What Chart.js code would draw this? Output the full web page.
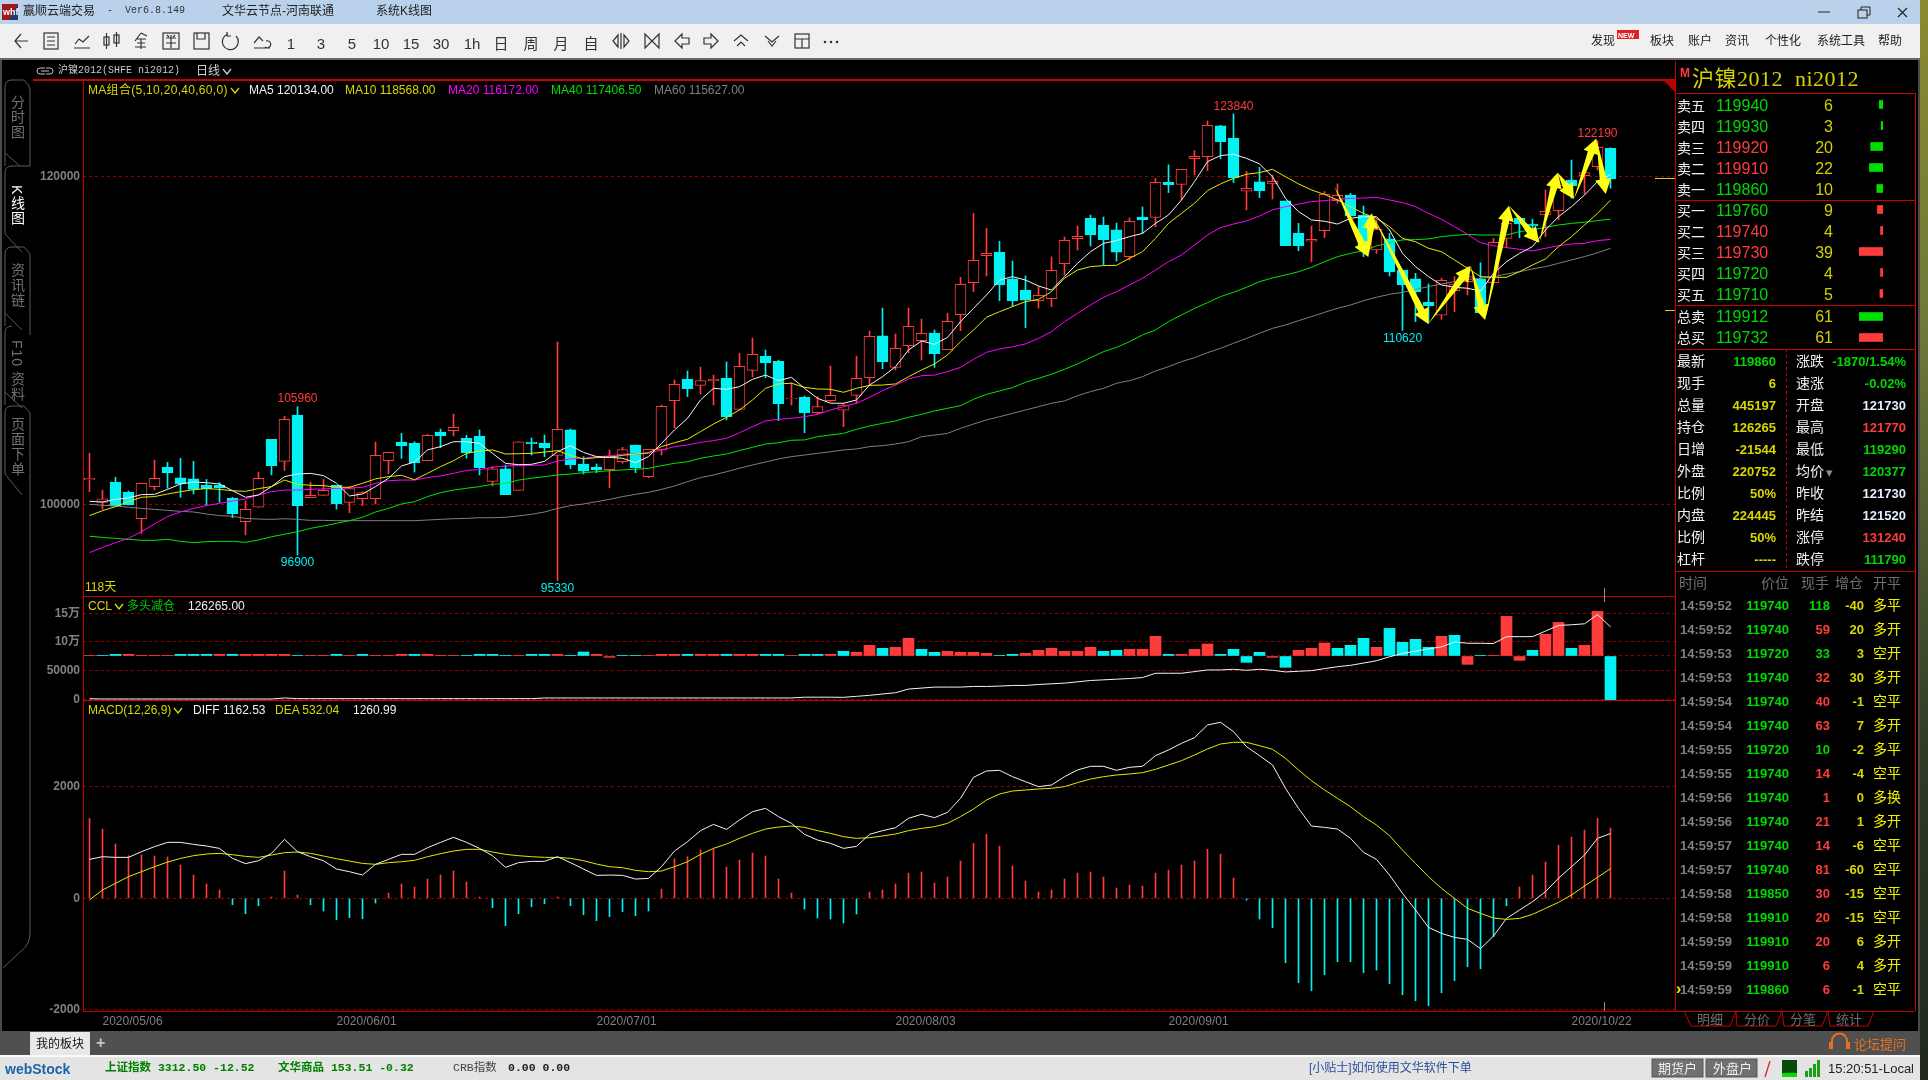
<!DOCTYPE html>
<html>
<head>
<meta charset="utf-8">
<title>沪镍2012</title>
<script src="https://cdn.jsdelivr.net/npm/chart.js@4/dist/chart.umd.js"></script>
<style>
html,body{margin:0;padding:0;background:#000;width:1928px;height:1080px;overflow:hidden;font-family:"Liberation Sans","Noto Sans CJK SC",sans-serif}
#app{position:absolute;left:0;top:0;width:1928px;height:1080px;overflow:hidden}
.box{position:absolute}
.t{position:absolute;white-space:pre;transform:translateY(-50%);line-height:1;z-index:5}
canvas{position:absolute;display:block}
</style>
</head>
<body>
<div id="app">
<div class="box" style="left:1920px;top:0;width:8px;height:1080px;background:linear-gradient(#8a8a30,#6e7a3a 30%,#2c3a26 70%,#20281e)"></div>
<div class="box" style="left:0;top:0;width:1920px;height:24px;background:#b9d1ea"></div>
<div class="box" style="left:0;top:24px;width:1920px;height:34px;background:#f0f0f0"></div>
<div class="box" style="left:0;top:58px;width:1920px;height:2px;background:#6a6a6a"></div>
<div class="box" style="left:0;top:60px;width:2px;height:971px;background:#4a4a4a"></div>
<div class="box" style="left:1918px;top:60px;width:2px;height:971px;background:#4a4a4a"></div>
<div class="box" style="left:0;top:1031px;width:1920px;height:24px;background:#505050"></div>
<div class="box" style="left:30px;top:1032px;width:60px;height:23px;background:#e8e8e8"></div>
<div class="box" style="left:0;top:1055px;width:1920px;height:25px;background:#e4e4e4;border-top:2px solid #fafafa;box-sizing:border-box"></div>
<div class="box" style="left:33px;top:79px;width:1642px;height:2px;background:#c80000"></div>
<div class="box" style="left:1675px;top:61px;width:1px;height:950px;background:#c80000"></div>
<svg class="box" id="chrome" style="left:0;top:0;z-index:4" width="1928" height="1080" xmlns="http://www.w3.org/2000/svg"></svg>
<canvas id="main" width="1644" height="516" style="left:31px;top:80px"></canvas>
<canvas id="ccl" width="1644" height="114" style="left:31px;top:596px"></canvas>
<canvas id="macd" width="1644" height="331" style="left:31px;top:700px"></canvas>
<canvas id="depth" width="24" height="210" style="left:1859px;top:94px"></canvas>
<canvas id="depthTotal" width="24" height="42" style="left:1859px;top:306px"></canvas>
</div>
<script>
// daily candles, index 0 = first visible session
const opens = [101500,100120,101360,100750,99120,101080,102260,101610,101550,101180,
  101180,100370,98940,99820,103970,102620,105450,100410,100550,101160,
  100120,100340,100340,102660,103800,103740,102660,104410,104500,104030,
  104170,101400,102160,100850,103800,103720,102990,104540,102460,102280,
  102120,102600,103620,101690,103320,106330,107630,107260,107550,107690,
  105800,108180,109030,108730,106430,106530,105600,106330,105740,106650,
  107730,110280,108360,109690,109990,110460,109440,111580,113530,115180,
  115400,113760,113080,112430,112550,114690,116220,117460,117030,116750,
  115120,117540,117520,119660,119530,121100,121220,123100,122360,119110,
  119680,119560,118520,116560,116060,116710,118540,118880,117660,115530,
  116200,114300,113760,112330,111540,113040,113590,113760,113530,116240,
  117460,117110,117660,117930,119800,120060,120610,121730];
const highs = [103110,100870,101650,100810,101280,102700,102560,102810,102620,101520,
  101320,100430,100200,101950,103970,105370,105960,101340,101520,101160,
  101080,100770,103800,103170,104330,103820,104270,104600,105510,104210,
  104540,102300,102400,103820,104050,104230,109910,104600,102910,102460,
  103320,103480,103620,103360,106060,107590,108140,108380,107890,108690,
  109220,110150,109420,108790,107430,106610,106570,108440,106160,109050,
  110580,111980,110400,111980,111310,110640,111660,113860,117760,116850,
  116060,114850,113940,113290,115100,116320,116990,117660,117540,117170,
  117480,118150,119900,120720,120450,121590,123400,123140,123840,120330,
  120570,120100,118520,117150,116990,119090,119560,118980,118210,117360,
  116540,114300,114100,113450,113800,113900,114510,114750,116240,117560,
  117560,117400,119190,120100,121020,120310,122190,121770];
const lows = [100770,99690,99880,99960,98230,100870,100980,100430,100630,99960,
  100120,99180,98130,99820,101790,102070,96900,100410,100550,99710,
  99490,99920,100020,101870,102810,101970,102660,103460,104170,102810,
  101790,101120,100590,100850,103010,102910,95330,102180,101850,101930,
  101020,102500,101930,101630,103010,104680,106570,106730,106060,105150,
  105800,107790,107730,105110,106060,104370,105510,106270,104740,106160,
  107280,108280,108200,109260,108810,108360,109440,110600,112980,113940,
  112430,112070,110780,111980,112070,114000,115520,115770,114610,114850,
  114920,116540,116950,119030,118580,120100,120370,121100,119640,117970,
  118720,118640,115790,115480,114810,116280,118380,117360,115120,115320,
  113940,110620,111150,111050,111290,111760,112780,111700,113530,115690,
  116280,116280,116340,117360,118680,118940,120410,119290];
const closes = [101580,100340,99880,99960,101280,101590,101910,101240,100910,100960,
  101000,99430,99690,101590,102360,105190,99920,100550,100850,100040,
  100960,100710,102990,103170,103560,102540,104210,104170,104700,103130,
  102240,102160,100590,103820,103700,103440,104580,102400,102030,102100,
  102950,103340,102240,103360,105980,107320,107060,107550,107630,105350,
  108420,109160,108650,106140,106490,105600,105960,106650,106060,107690,
  110260,108710,109520,110860,110440,109200,111170,113430,114900,115320,
  113390,112430,112470,112760,114280,116120,116360,116440,116140,115400,
  117280,117360,119660,119510,120450,121240,123140,122140,119940,119290,
  119150,119720,115790,115790,116180,118920,118860,117600,115670,116790,
  114180,113390,112980,112110,113670,113450,113900,111700,115990,117150,
  117110,116990,117890,119490,119430,120250,121790,119860];

const ma5 = [100180,100140,100300,100390,100590,100610,100910,101240,101360,101320,
  101240,100830,100430,100570,101080,101690,101850,101890,101750,101280,
  100510,100630,101080,101590,102340,102580,103320,103520,103820,103820,
  103720,103110,102500,102420,102440,102620,103210,103580,103170,102910,
  102870,102810,102540,102910,103720,104540,105250,106370,107080,107020,
  107180,107630,107890,107550,107750,107080,106470,106170,106170,106370,
  107280,107790,108400,109420,109970,109770,110190,111150,111960,112780,
  113690,113900,113690,113330,113080,113900,114710,115420,115930,116100,
  116340,116540,117150,117660,118580,119700,120920,121290,121370,121120,
  120780,120000,118680,117870,117360,117280,117110,117460,117560,117560,
  116750,115320,114510,113900,113390,113250,113190,113020,114100,114810,
  115320,115730,116750,117560,118170,118880,119700,120134];
const ma10 = [99310,99610,99860,100160,100430,100470,100630,100770,100890,100960,
  100910,100830,100790,100960,101080,101480,101220,101160,101140,101040,
  101040,101280,101550,101690,101770,101500,101890,102300,102660,103110,
  103250,103320,103070,103090,103110,103190,103280,102990,102770,102850,
  102870,102990,103070,103150,103520,103760,103970,104440,104900,105310,
  105760,106370,107080,107350,107390,107140,107040,107020,106840,107080,
  107260,107280,107350,107790,108200,108570,109120,109930,110640,111420,
  111760,112070,112370,112510,112980,113800,114300,114510,114570,114590,
  115020,115420,116240,117150,117760,118380,119150,119560,119900,120150,
  120250,120450,120000,119560,119190,118920,118580,118170,117760,117460,
  116950,116240,116030,115630,115420,114920,114410,113900,113860,113860,
  114200,114610,114980,115730,116340,117050,117760,118568];
const ma20 = [97050,97370,97660,97920,98330,98800,99250,99530,99750,99920,
  100060,100200,100320,100570,100770,100870,100870,100910,100940,100980,
  101000,101040,101280,101440,101480,101480,101630,101730,101890,102070,
  102120,102260,102340,102360,102380,102400,102640,102770,102810,102910,
  102950,103070,103070,103110,103320,103520,103620,103780,103890,104030,
  104370,104740,105090,105190,105250,105350,105490,105760,105960,106170,
  106530,106940,107280,107650,107850,107890,108100,108360,108850,109280,
  109480,109620,109790,110130,110540,111150,111660,112170,112640,112980,
  113390,113800,114300,114810,115220,115830,116440,116890,117110,117300,
  117600,117970,118170,118330,118480,118540,118620,118680,118700,118740,
  118580,118420,118170,117760,117400,116950,116480,115970,115790,115670,
  115570,115470,115630,115790,115890,115930,116100,116172];
const ma40 = [98050,97980,97920,97860,97800,97800,97860,97740,97660,97720,
  97740,97740,97680,97820,98020,98170,98330,98530,98680,98840,
  99000,99210,99530,99750,100020,100160,100470,100710,100870,100980,
  101080,101220,101280,101480,101590,101690,101790,101850,101930,101990,
  102050,102100,102140,102200,102360,102500,102600,102810,102950,103070,
  103280,103480,103680,103760,103910,103930,104130,104230,104330,104580,
  104780,104940,105090,105310,105490,105700,105860,106020,106410,106710,
  106920,107120,107450,107690,107940,108240,108570,108950,109320,109580,
  109930,110340,110640,111150,111560,111960,112310,112680,112940,113250,
  113590,113820,114000,114200,114470,114810,115120,115320,115490,115770,
  115970,116140,116160,116200,116340,116420,116480,116440,116440,116440,
  116650,116750,116910,117050,117150,117220,117320,117406.5];
const ma60 = [100000,99940,99900,99820,99750,99690,99630,99570,99530,99410,
  99310,99270,99140,99100,99080,99120,99080,99020,99020,99000,
  99000,99000,99000,99000,99000,99000,99040,99080,99120,99140,
  99180,99180,99210,99290,99390,99530,99750,99920,100020,100160,
  100300,100470,100610,100730,100910,101120,101380,101630,101790,101990,
  102200,102400,102580,102770,102910,103010,103110,103210,103320,103380,
  103520,103580,103680,103820,104130,104230,104330,104640,104900,105150,
  105350,105550,105760,105960,106170,106310,106630,106880,107080,107390,
  107550,107790,108140,108400,108710,108950,109260,109520,109830,110130,
  110440,110740,110950,111210,111460,111720,111960,112170,112430,112640,
  112820,112940,113120,113290,113450,113590,113730,113800,113900,114060,
  114200,114370,114510,114710,114920,115120,115360,115627];

// open interest panel
const cclDelta = [330,330,820,820,330,330,330,820,820,820,
  820,820,820,820,820,820,330,330,330,820,
  330,820,330,330,820,820,820,330,330,330,
  820,820,330,330,820,820,820,330,1960,820,
  -650,330,330,330,820,820,820,820,820,820,
  820,820,820,820,330,820,820,820,2280,1790,
  5220,3750,4240,8640,3260,1790,2280,1790,1790,1300,
  330,820,1300,2770,3750,2280,2280,4240,2280,2770,
  3260,3260,9620,820,820,3260,5870,820,3260,-3100,
  1790,-650,-5540,2770,3750,6360,3750,5220,8640,4240,
  13530,6680,8150,4240,9620,10110,-4080,330,330,19400,
  -2120,2770,10600,16460,3750,5220,21840,-21544];
const cclRed = [1,0,0,1,1,1,1,0,0,0,
  1,0,1,1,1,1,0,1,1,0,
  1,0,1,1,1,0,1,1,1,0,
  0,0,0,1,0,0,1,0,0,1,
  1,0,0,1,1,1,0,1,1,0,
  1,1,0,0,1,0,0,1,0,1,
  1,0,1,1,0,0,1,1,1,1,
  0,0,1,1,1,1,1,1,0,0,
  1,1,1,0,1,1,1,0,0,0,
  0,1,0,1,1,1,0,0,0,1,
  0,0,0,0,1,0,1,0,1,1,
  1,0,1,1,0,1,1,0];
const cclLine = [1000,600,600,600,600,600,600,600,600,600,
  600,600,600,600,600,2300,1150,1150,1150,1150,
  1150,1150,1150,1150,1150,1150,1150,1150,1150,1150,
  1150,1150,1150,1150,1150,2300,2300,2300,2300,2300,
  2300,2300,2300,2300,2300,2300,2300,2300,2300,2300,
  2300,2300,2300,2300,2300,3700,3700,3700,3450,5180,
  6900,9200,11500,17830,19550,21280,21280,21280,22430,22430,
  23000,24150,24150,25880,27030,28180,30480,32780,33930,35080,
  36230,37950,45430,45430,45430,48300,51180,51180,52330,50600,
  52330,50600,47730,48880,50030,53480,56930,59230,63250,67280,
  74180,79930,83950,87980,91430,100050,97750,97750,97180,109250,
  109250,109250,119030,128800,129950,131680,147780,126265];
const cclTicks = [0,50000,100000,150000];
const cclTickLabels = {0:"0",50000:"50000",100000:"10万",150000:"15万"};

// MACD panel
const macdHist = [1435,1243,974,765,777,759,741,598,418,257,
  150,-114,-275,-132,24,490,60,-114,-227,-383,
  -347,-365,-84,96,257,203,347,419,490,293,
  24,-167,-490,-275,-150,-96,24,-132,-293,-400,
  -329,-239,-311,-227,167,711,747,867,879,562,
  687,813,759,347,96,-191,-353,-371,-443,-281,
  114,150,257,454,472,275,383,670,986,1148,
  938,580,311,114,150,347,454,472,383,185,
  239,221,454,508,598,670,879,789,365,-30,
  -371,-526,-1154,-1513,-1657,-1369,-1136,-1136,-1334,-1286,
  -1531,-1728,-1836,-1926,-1692,-1477,-1226,-1262,-688,-132,
  203,419,652,950,1100,1225,1435,1261];
const macdDiff = [699,747,735,735,837,927,1004,1004,968,938,
  896,717,622,675,807,1058,837,747,675,526,
  478,418,610,699,789,789,908,1004,1094,1004,
  896,765,556,640,663,663,747,640,526,412,
  418,412,346,358,568,849,1016,1214,1327,1237,
  1405,1554,1614,1465,1345,1148,1046,986,896,932,
  1148,1214,1267,1435,1507,1447,1542,1794,2170,2284,
  2296,2182,2092,2003,2033,2182,2302,2368,2368,2296,
  2350,2368,2559,2661,2780,2882,3109,3157,2990,2720,
  2559,2392,1973,1614,1297,1273,1243,1076,825,699,
  418,90,-209,-520,-628,-700,-735,-903,-676,-359,
  -209,-60,120,360,568,777,1076,1162.53];
const macdDea = [-30,150,269,389,478,568,650,717,765,795,
  807,783,753,735,777,819,831,807,759,711,
  669,627,610,640,657,681,747,801,849,879,
  879,831,789,765,747,735,735,717,675,615,
  568,550,502,478,490,568,657,789,896,974,
  1076,1166,1243,1279,1297,1273,1214,1166,1106,1076,
  1088,1118,1154,1214,1255,1285,1345,1465,1602,1764,
  1871,1925,1943,1961,1973,2003,2075,2140,2182,2212,
  2230,2254,2314,2391,2469,2571,2679,2768,2798,2798,
  2738,2673,2511,2302,2110,1943,1794,1644,1465,1315,
  1124,866,627,388,179,0,-179,-269,-353,-377,
  -359,-287,-179,-72,60,221,377,532.04];

const priceTicks = [100000,120000];
const macdTicks = [-2000,0,2000];
const dateIndex = [1,19,39,62,83,114];
const dateText = ["2020/05/06","2020/06/01","2020/07/01","2020/08/03","2020/09/01","2020/10/22"];

// high / low call-outs
const peakIndex = [16,16,36,88,101,116];
const peakPrice = [105960,96900,95330,123840,110620,122190];
const peakAbove = [1,0,0,1,0,1];

// the hand drawn yellow zig-zag on the chart
const zigIndex = [95.75,98.37,98.63,102.98,106.25,107.35,109.19,111.52,112.94,114.19,115.91,116.63];
const zigPrice = [119430,115100,117770,111010,114550,111250,118230,115970,120240,118640,122340,118940];

// quote panel
const depthLabels = ["卖五","卖四","卖三","卖二","卖一","买一","买二","买三","买四","买五"];
const depthPrices = [119940,119930,119920,119910,119860,119760,119740,119730,119720,119710];
const depthVols = [6,3,20,22,10,9,4,39,4,5];
const depthUp = [0,0,1,1,0,0,1,1,0,0];
const totalLabels = ["总卖","总买"];
const totalPrices = [119912,119732];
const totalVols = [61,61];
const statLeft = [["最新","119860","#00d800"],["现手","6","#d8d800"],["总量","445197","#d8d800"],["持仓","126265","#d8d800"],["日增","-21544","#d8d800"],["外盘","220752","#d8d800"],["比例","50%","#d8d800"],["内盘","224445","#d8d800"],["比例","50%","#d8d800"],["杠杆","-----","#d8d800"]];
const statRight = [["涨跌","-1870/1.54%","#00d800"],["速涨","-0.02%","#00d800"],["开盘","121730","#e4ecff"],["最高","121770","#ff3c3c"],["最低","119290","#00d800"],["均价","120377","#00d800"],["昨收","121730","#e4ecff"],["昨结","121520","#e4ecff"],["涨停","131240","#ff3c3c"],["跌停","111790","#00d800"]];
const tradeTimes = ["14:59:52","14:59:52","14:59:53","14:59:53","14:59:54","14:59:54","14:59:55","14:59:55","14:59:56","14:59:56","14:59:57","14:59:57","14:59:58","14:59:58","14:59:59","14:59:59","14:59:59"];
const tradePrices = [119740,119740,119720,119740,119740,119740,119720,119740,119740,119740,119740,119740,119850,119910,119910,119910,119860];
const tradeVols = [118,59,33,32,40,63,10,14,1,21,14,81,30,20,20,6,6];
const tradeUp = [0,1,0,1,1,1,0,1,1,1,1,1,1,1,1,1,1];
const tradeDelta = [-40,20,3,30,-1,7,-2,-4,0,1,-6,-60,-15,-15,6,4,-1];
const tradeType = ["多平","多开","空开","多开","空平","多开","多平","空平","多换","多开","空平","空平","空平","空平","多开","多开","空平"];

const RED = "#ff3c3c", CYAN = "#00f2f2", GRID = "#960000", FRAME = "#c80000", AXIS = "#808080";
const FONT = '"Liberation Sans","Noto Sans CJK SC",sans-serif';
const MONO = '"Liberation Mono","Noto Sans CJK SC",monospace';
const app = document.getElementById("app");

function put(x, y, s, color, size, opt) {
  opt = opt || {};
  const d = document.createElement("div");
  d.className = "t";
  d.style.top = y + "px";
  if (opt.right) d.style.right = (1928 - x) + "px"; else d.style.left = x + "px";
  d.style.color = color;
  d.style.fontSize = size + "px";
  if (opt.bold) d.style.fontWeight = "bold";
  if (opt.font) d.style.fontFamily = opt.font;
  if (opt.spacing) d.style.letterSpacing = opt.spacing + "px";
  if (opt.vertical) { d.style.writingMode = "vertical-rl"; d.style.transform = "none"; d.style.letterSpacing = "1px"; }
  if (opt.html) d.innerHTML = s; else d.textContent = s;
  app.appendChild(d);
}
const chev = c => `<svg width="10" height="7" style="margin-left:2px"><path d="M1 1 L5 6 L9 1" fill="none" stroke="${c}" stroke-width="1.3"/></svg>`;

// window and toolbar text
put(23, 11, "赢顺云端交易", "#222", 12);
put(107, 11, "-  Ver6.8.149", "#333", 10, {font: MONO});
put(222, 11, "文华云节点-河南联通", "#222", 12);
put(376, 11, "系统K线图", "#222", 12);
put(3, 12, "whf", "#fff", 9, {bold: true});
["1","3","5","10","15","30","1h","日","周","月","自"].forEach((s, k) => {
  const x = [291,321,352,381,411,441,472,501,531,561,591][k];
  const d = document.createElement("div");
  d.className = "t"; d.textContent = s;
  d.style.cssText = `left:${x - 15}px;width:30px;text-align:center;top:43px;font-size:15px;color:#333`;
  app.appendChild(d);
});
[["发现",1591],["板块",1650],["账户",1688],["资讯",1725],["个性化",1765],["系统工具",1817],["帮助",1878]].forEach(a => put(a[1], 41, a[0], "#222", 12));
put(1618, 35, "NEW", "#fff", 7, {bold: true});

// chart headers
put(58, 71, "沪镍2012(SHFE ni2012)", "#c8c8c8", 10, {font: MONO});
put(196, 71, "日线" + chev("#d0d0d0"), "#d0d0d0", 12, {html: true});
put(88, 89.5, "MA组合(5,10,20,40,60,0)" + chev("#d8d800"), "#d8d800", 12, {html: true, spacing: 0.3});
put(249, 89.5, "MA5 120134.00", "#f0f0f0", 12);
put(345, 89.5, "MA10 118568.00", "#d8d800", 12);
put(448, 89.5, "MA20 116172.00", "#ff00ff", 12);
put(551, 89.5, "MA40 117406.50", "#00e000", 12);
put(654, 89.5, "MA60 115627.00", "#808080", 12);
put(85, 587, "118天", "#d8d800", 12);
put(88, 606, "CCL" + chev("#d8d800"), "#d8d800", 12, {html: true});
put(127, 606, "多头减仓", "#00c800", 12);
put(188, 606, "126265.00", "#f0f0f0", 12);
put(88, 710, "MACD(12,26,9)" + chev("#d8d800"), "#d8d800", 12, {html: true});
put(193, 710, "DIFF 1162.53", "#f0f0f0", 12);
put(275, 710, "DEA 532.04", "#d8d800", 12);
put(353, 710, "1260.99", "#f0f0f0", 12);

// left rail
[["分时图",95,"#707070"],["K线图",185,"#ffffff"],["资讯链",263,"#707070"],["F10 资料",340,"#707070"],["页面下单",417,"#707070"]].forEach(a => put(10, a[1], a[0], a[2], 14, {vertical: true}));

// quote panel text
put(1680, 73, "M", RED, 12, {bold: true});
put(1692, 79, "沪镍2012  ni2012", "#d2d200", 22, {font: '"Liberation Serif","Noto Sans CJK SC",serif', spacing: 0.5});
depthLabels.forEach((s, k) => {
  const y = 105.7 + 21 * k;
  put(1677, y, s, "#f0f0f0", 14);
  put(1716, y, String(depthPrices[k]), depthUp[k] ? RED : "#00d800", 16);
  put(1833, y, String(depthVols[k]), "#d0d000", 16, {right: true});
});
totalLabels.forEach((s, k) => {
  const y = 317.3 + 21 * k;
  put(1677, y, s, "#f0f0f0", 14);
  put(1716, y, String(totalPrices[k]), "#00d800", 16);
  put(1833, y, String(totalVols[k]), "#d0d000", 16, {right: true});
});
statLeft.forEach((r, k) => {
  const y = 361 + 22 * k;
  put(1677, y, r[0], "#f0f0f0", 14);
  put(1776, y, r[1], r[2], 13, {right: true, bold: true});
});
statRight.forEach((r, k) => {
  const y = 361 + 22 * k;
  put(1796, y, r[0], "#f0f0f0", 14);
  put(1906, y, r[1], r[2], 13, {right: true, bold: true});
});
put(1826, 472, "▾", "#909090", 13);
put(1679, 583, "时间", "#707070", 14);
put(1789, 583, "价位", "#707070", 14, {right: true});
put(1829, 583, "现手", "#707070", 14, {right: true});
put(1863, 583, "增仓", "#707070", 14, {right: true});
put(1873, 583, "开平", "#707070", 14);
tradeTimes.forEach((s, k) => {
  const y = 605 + 24 * k;
  put(1680, y, s, "#808080", 13, {bold: true});
  put(1789, y, String(tradePrices[k]), "#00d800", 13, {right: true, bold: true});
  put(1830, y, String(tradeVols[k]), tradeUp[k] ? RED : "#00d800", 13, {right: true, bold: true});
  put(1864, y, String(tradeDelta[k]), "#d8d800", 13, {right: true, bold: true});
  put(1873, y, tradeType[k], "#f0f000", 14);
});
put(1676, 989, "›", "#f0f000", 16, {bold: true});
[["明细",1697],["分价",1744],["分笔",1790],["统计",1836]].forEach(a => put(a[1], 1019, a[0], "#707070", 13));

// bottom bars
put(36, 1044, "我的板块", "#111", 12);
put(96, 1043, "+", "#c8c8c8", 16, {bold: true});
put(1854, 1044, "论坛提问", "#e8701e", 13);
put(5, 1069, "webStock", "#1c64a8", 14, {bold: true});
put(105, 1068, "上证指数 3312.50 -12.52", "#008000", 11.5, {font: MONO, bold: true});
put(278, 1068, "文华商品 153.51 -0.32", "#008000", 11.5, {font: MONO, bold: true});
put(453, 1068, "CRB指数", "#444", 11.5, {font: MONO});
put(508, 1068, "0.00 0.00", "#222", 11.5, {font: MONO, bold: true});
put(1309, 1068, "[小贴士]如何使用文华软件下单", "#2a4f9e", 12);
put(1828, 1068, "15:20:51-Local", "#222", 13);

// static chrome drawn as svg
(function () {
  const s = [];
  const icon = (x, p) => s.push(`<g transform="translate(${x - 10},31)" fill="none" stroke="#333" stroke-width="1.2">${p}</g>`);
  icon(22, '<path d="M16 10H3M9 3L3 10L9 17"/>');
  icon(51, '<rect x="3" y="2" width="14" height="16"/><path d="M6 6H14M6 10H14M6 14H14"/>');
  icon(82, '<path d="M2 17H18M3 13L7 8L11 11L17 5"/>');
  icon(112, '<rect x="2" y="6" width="5" height="8"/><path d="M4.5 2V18"/><rect x="12" y="4" width="5" height="8"/><path d="M14.500 1V16"/>');
  icon(141, '<path d="M4 10L10 2M10 2L16 5M6 8H15M6 12H14M10 8V18M4 16H15"/>');
  icon(171, '<rect x="2" y="2" width="16" height="16"/><path d="M5 7H15M5 12H15M10 4V17M6 4L8 6M14 4L12 6"/>');
  icon(201, '<rect x="3" y="2" width="15" height="16"/><path d="M6 2V8H14V2"/>');
  icon(231, '<path d="M7 3A8 8 0 1 0 15 5M6 1V5H10"/>');
  icon(262, '<path d="M2 17H18M2 12L7 6L11 10M14 10A3.500 3.500 0 1 1 13 16"/>');
  icon(621, '<path d="M7 4L2 10L7 16ZM13 4L18 10L13 16ZM10 2V18"/>');
  icon(652, '<path d="M3 3L10 10L3 17ZM17 3L10 10L17 17Z"/>');
  icon(682, '<path d="M10 3L3 10L10 17V13H17V7H10Z"/>');
  icon(711, '<path d="M10 3L17 10L10 17V13H3V7H10Z"/>');
  icon(741, '<path d="M3 10L10 4L17 10M6 15L10 11L14 15"/>');
  icon(772, '<path d="M3 5L10 11L17 5M6 10L10 15L14 10"/>');
  icon(802, '<rect x="3" y="3" width="14" height="14"/><path d="M3 8H17M10 8V17"/>');
  icon(831, '<circle cx="4" cy="11" r=".7"/><circle cx="10" cy="11" r=".7"/><circle cx="16" cy="11" r=".7"/>');
  s.push('<rect x="2" y="4" width="16" height="16" fill="#a01818"/><path d="M18 4V20H9Z" fill="#203a70"/>');
  s.push('<path d="M1818 12H1830" stroke="#222"/><rect x="1858" y="10" width="9" height="8" fill="none" stroke="#222"/><path d="M1861 10V7H1870V15H1867" fill="none" stroke="#222"/><path d="M1898 8L1907 17M1907 8L1898 17" stroke="#222" stroke-width="1.2"/>');
  s.push('<rect x="1617" y="30" width="22" height="9" fill="#e02020"/>');
  // left tabs
  s.push('<path d="M5 166V87Q5 80 12 80H24Q30 85 30 90V166" fill="none" stroke="#5a5a5a"/><path d="M5 153L20 166" stroke="#5a5a5a"/>');
  s.push('<path d="M30 166H12Q5 166 5 173V234L22 252" fill="none" stroke="#5a5a5a"/>');
  s.push('<path d="M5 326V254Q5 247 12 247H24L30 254V335M5 313L22 330" fill="none" stroke="#5a5a5a"/>');
  s.push('<path d="M5 405V333Q5 326 12 326M5 392L22 408" fill="none" stroke="#5a5a5a"/>');
  s.push('<path d="M5 474V413Q5 406 12 406H24L30 413V933Q30 945 20 952L3 968M5 474L22 495" fill="none" stroke="#5a5a5a"/>');
  s.push('<path d="M37 71Q37 68 40 68H45M45 74H40Q37 74 37 71M53 71Q53 68 50 68H46M46 74H50Q53 74 53 71M41 71H49" fill="none" stroke="#c0c0c0"/>');
  // quote panel rules
  [93,200,305,349,571,1011].forEach(y => s.push(`<path d="M1675 ${y}.5H1915" stroke="#c80000"/>`));
  s.push('<path d="M1915.500 93V1011" stroke="#c80000"/>');
  s.push(`<path d="M1786.500 349V571" stroke="#c80000" stroke-dasharray="3 3"/>`);
  s.push('<path d="M1664 81H1675V92Z" fill="#b00000"/>');
  s.push('<path d="M1684 1011L1691 1026H1730L1736 1011M1736 1011L1737 1026H1776L1782 1011M1782 1011L1784 1026H1822L1828 1011M1828 1011L1830 1026H1868L1874 1011" fill="none" stroke="#c80000"/>');
  // bid markers, session ticks
  s.push('<path d="M1655 178.500H1675M1665 310.500H1675" stroke="#d8d800"/>');
  s.push('<path d="M1604.500 588V596M1604.500 596V602M1604.500 1002V1011" stroke="#909090"/>');
  // headset, status widgets
  s.push('<path d="M1832 1047V1041A7.500 7.500 0 0 1 1847 1041V1047" fill="none" stroke="#e8701e" stroke-width="2"/><rect x="1829" y="1042" width="4" height="7" fill="#e8701e"/><rect x="1846" y="1042" width="4" height="7" fill="#e8701e"/>');
  s.push('<rect x="1652" y="1059" width="51" height="18" fill="#707070" stroke="#555"/><rect x="1706" y="1059" width="51" height="18" fill="#707070" stroke="#555"/>');
  s.push('<path d="M1770 1061L1765 1077" stroke="#e02020" stroke-width="1.3"/><rect x="1782" y="1060" width="15" height="15" fill="#0a4a0a"/><rect x="1782" y="1073" width="15" height="4" fill="#00e000"/>');
  [[1805,1071,6],[1809,1068,9],[1813,1064,13],[1817,1060,17]].forEach(b => s.push(`<rect x="${b[0]}" y="${b[1]}" width="3" height="${b[2]}" fill="#18a018"/>`));
  document.getElementById("chrome").innerHTML = s.join("");
})();
put(1658, 1068, "期货户", "#f0f0f0", 13);
put(1713, 1068, "外盘户", "#f0f0f0", 13);

// ---- charts ----
Chart.defaults.animation = false;
Chart.defaults.responsive = false;
Chart.defaults.plugins.legend.display = false;
Chart.defaults.plugins.tooltip.enabled = false;
Chart.defaults.font.family = FONT;

const xAxis = {type: "linear", display: false, offset: false, min: -0.5, max: 121.9615};

function yAxis(min, max, ticks, label) {
  return {
    min, max,
    afterBuildTicks: s => { s.ticks = ticks.map(v => ({value: v})); },
    afterFit: s => { s.width = 52; s.paddingTop = 0; s.paddingBottom = 0; },
    border: {display: false, dash: [3, 3]},
    grid: {color: GRID, lineWidth: 1, drawTicks: false},
    ticks: {color: AXIS, font: {size: 12, weight: "bold"}, padding: 3, autoSkip: false, callback: label},
  };
}

const xy = arr => arr.map((v, i) => ({x: i, y: v}));
const line = (arr, color, order, yAxisID) => ({type: "line", data: xy(arr), borderColor: color, borderWidth: 1, pointRadius: 0, tension: 0, order, yAxisID: yAxisID || "y"});

const frame = {
  id: "frame",
  afterDatasetsDraw(c) {
    const a = c.chartArea, g = c.ctx;
    g.save();
    g.strokeStyle = FRAME;
    g.lineWidth = 1;
    g.strokeRect(a.left + 0.5, a.top + 0.5, a.right - a.left, a.bottom - a.top);
    g.restore();
  },
};

const peaks = {
  id: "peaks",
  afterDatasetsDraw(c) {
    const g = c.ctx;
    g.save();
    g.font = "12px " + FONT;
    g.textAlign = "center";
    g.textBaseline = "middle";
    peakIndex.forEach((i, k) => {
      g.fillStyle = peakAbove[k] ? RED : CYAN;
      const off = peakAbove[k] ? -7.5 : 8;
      g.fillText(String(peakPrice[k]), c.scales.x.getPixelForValue(i), c.scales.y.getPixelForValue(peakPrice[k]) + off);
    });
    g.restore();
  },
};

const zigzag = {
  id: "zigzag",
  afterDatasetsDraw(c) {
    const g = c.ctx, X = c.scales.x, Y = c.scales.y;
    g.save();
    g.fillStyle = "#ffff14";
    for (let k = 0; k < zigIndex.length - 1; k++) {
      const x0 = X.getPixelForValue(zigIndex[k]), y0 = Y.getPixelForValue(zigPrice[k]);
      const x1 = X.getPixelForValue(zigIndex[k + 1]), y1 = Y.getPixelForValue(zigPrice[k + 1]);
      const len = Math.hypot(x1 - x0, y1 - y0), ux = (x1 - x0) / len, uy = (y1 - y0) / len;
      const nx = -uy, ny = ux;
      const hx = x1 - ux * 15, hy = y1 - uy * 15;
      g.beginPath();
      g.moveTo(x0, y0);
      g.lineTo(hx + nx * 3.5, hy + ny * 3.5);
      g.lineTo(hx + nx * 8, hy + ny * 8);
      g.lineTo(x1, y1);
      g.lineTo(hx - nx * 8, hy - ny * 8);
      g.lineTo(hx - nx * 3.5, hy - ny * 3.5);
      g.closePath();
      g.fill();
    }
    g.restore();
  },
};

const dates = {
  id: "dates",
  afterDatasetsDraw(c) {
    const g = c.ctx;
    g.save();
    g.font = "12px " + FONT;
    g.fillStyle = AXIS;
    g.textAlign = "left";
    g.textBaseline = "middle";
    dateIndex.forEach((i, k) => g.fillText(dateText[k], c.scales.x.getPixelForValue(i), c.chartArea.bottom + 10.5));
    g.restore();
  },
};

new Chart(document.getElementById("main"), {
  data: {
    datasets: [
      {type: "bar", data: lows.map((v, i) => ({x: i, y: [v, highs[i]]})), barThickness: 1, grouped: false, order: 9,
        backgroundColor: closes.map((v, i) => v >= opens[i] ? RED : CYAN)},
      {type: "bar", data: opens.map((v, i) => ({x: i, y: [v, closes[i]]})), barThickness: 11, grouped: false, order: 8,
        backgroundColor: closes.map((v, i) => v >= opens[i] ? "#000" : CYAN),
        borderColor: closes.map((v, i) => v >= opens[i] ? RED : CYAN), borderWidth: 1, borderSkipped: false},
      line(ma60, "#808080", 5),
      line(ma40, "#00e800", 4),
      line(ma20, "#ff00ff", 3),
      line(ma10, "#e8e800", 2),
      line(ma5, "#f4f4f4", 1),
    ],
  },
  options: {
    layout: {padding: 0},
    scales: {x: xAxis, y: yAxis(94402, 125904, priceTicks, v => String(v))},
  },
  plugins: [frame, peaks, zigzag],
});

new Chart(document.getElementById("ccl"), {
  data: {
    datasets: [
      {type: "bar", data: xy(cclDelta), yAxisID: "yBar", barThickness: 11, order: 2,
        backgroundColor: cclRed.map(r => r ? RED : CYAN)},
      line(cclLine, "#f4f4f4", 1),
    ],
  },
  options: {
    layout: {padding: {bottom: 10}},
    scales: {
      x: xAxis,
      y: yAxis(-1221, 180154, cclTicks, v => cclTickLabels[v]),
      yBar: {
        position: "right", min: -21544, max: 29378,
        afterBuildTicks: s => { s.ticks = [{value: 0}]; },
        afterFit: s => { s.width = 0; s.paddingTop = 0; s.paddingBottom = 0; },
        border: {display: false, dash: [3, 3]},
        grid: {color: GRID, drawTicks: false},
        ticks: {display: false},
      },
    },
  },
  plugins: [frame],
});

new Chart(document.getElementById("macd"), {
  data: {
    datasets: [
      {type: "bar", data: xy(macdHist), barThickness: 1, order: 3,
        backgroundColor: macdHist.map(v => v >= 0 ? RED : CYAN)},
      line(macdDea, "#e8e800", 2),
      line(macdDiff, "#f4f4f4", 1),
    ],
  },
  options: {
    layout: {padding: {bottom: 20}},
    scales: {x: xAxis, y: yAxis(-2020, 3557, macdTicks, v => String(v))},
  },
  plugins: [frame, dates],
});

const depthBar = (id, labels, vals, colors, max) => new Chart(document.getElementById(id), {
  type: "bar",
  data: {labels, datasets: [{data: vals, backgroundColor: colors, barThickness: 8}]},
  options: {
    indexAxis: "y",
    scales: {x: {display: false, reverse: true, min: 0, max}, y: {display: false}},
  },
});
depthBar("depth", depthLabels, depthVols, depthLabels.map((s, i) => i < 5 ? "#00e000" : RED), 39);
depthBar("depthTotal", totalLabels, totalVols, ["#00e000", RED], 61);
</script>
</body>
</html>
